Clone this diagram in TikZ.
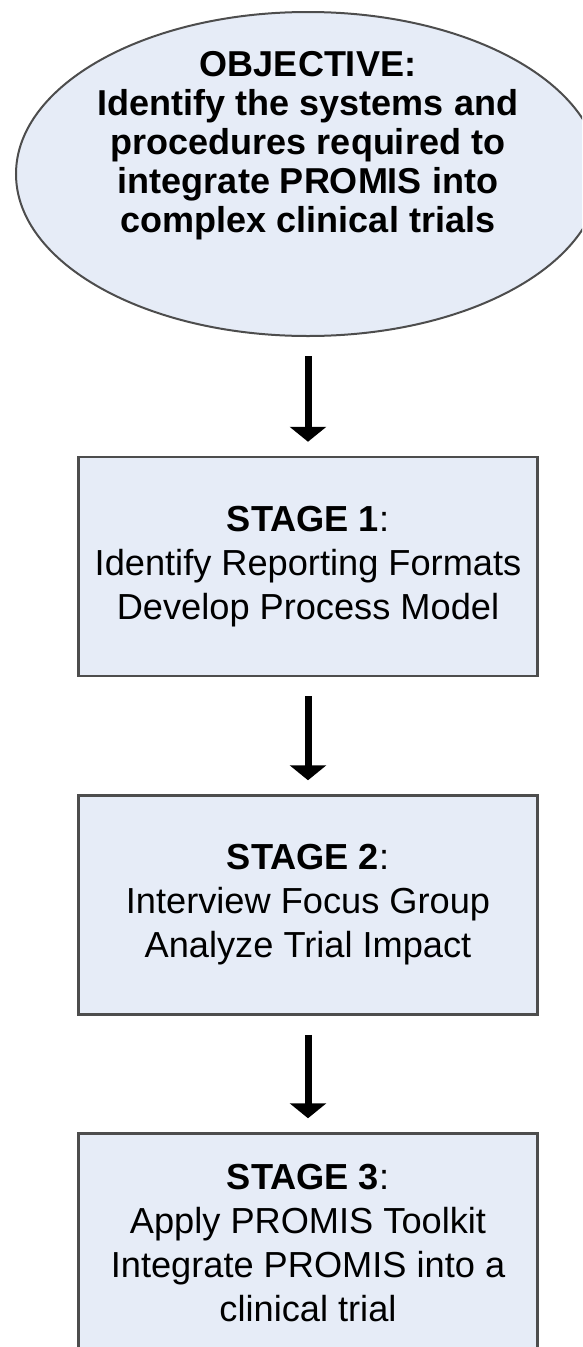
\documentclass[tikz,border=0pt]{standalone}
\usepackage{fontspec}
\setmainfont{Liberation Sans}
\usepackage{tikz}
\usetikzlibrary{arrows.meta,shapes.geometric}
\usepackage{xcolor}
\definecolor{StageFill}{HTML}{E6ECF7}
\definecolor{StageBorder}{HTML}{4D4D4D}

\tikzset{
  objective/.style={ellipse,draw=StageBorder,line width=2pt,fill=StageFill,
    minimum width=584pt,minimum height=324pt,inner sep=0pt},
  objtext/.style={align=center,inner sep=0pt,
    font=\fontsize{36}{39}\selectfont\bfseries},
  stagebox/.style={rectangle,draw=StageBorder,line width=2.5pt,fill=StageFill,
    minimum width=459pt,minimum height=219pt,inner sep=0pt,align=center,
    font=\fontsize{36.2}{44}\selectfont},
  flowarrow/.style={line width=7pt,-{Triangle[width=36pt,length=15pt]},
    shorten <=19pt,shorten >=14pt}
}

\begin{document}
\begin{tikzpicture}[x=1pt,y=-1pt]
    \clip (0,0) rectangle (582,1347);

    \node[objective] (obj) at (308,174) {};
    \node[objtext] (objtxt) at (308,146) {OBJECTIVE:\\Identify the systems and\\procedures required to\\integrate PROMIS into\\complex clinical trials};

    \node[stagebox] (s1) at (308,566.5) {\textbf{STAGE 1}:\\Identify Reporting Formats\\Develop Process Model};
    \node[stagebox] (s2) at (308,905) {\textbf{STAGE 2}:\\Interview Focus Group\\Analyze Trial Impact};
    \node[stagebox] (s3) at (308,1243) {\textbf{STAGE 3}:\\Apply PROMIS Toolkit\\Integrate PROMIS into a\\clinical trial};

    \draw[flowarrow] (obj.south) -- (s1.north);
    \draw[flowarrow] (s1.south) -- (s2.north);
    \draw[flowarrow] (s2.south) -- (s3.north);
   \end{tikzpicture}
\end{document}
